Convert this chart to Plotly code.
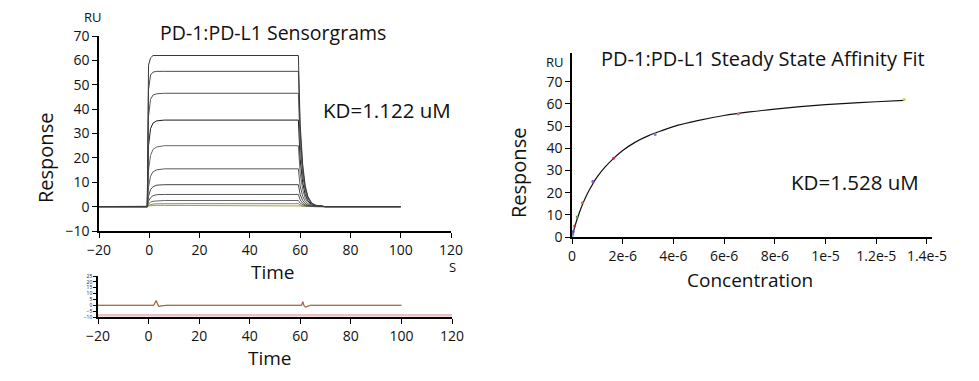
import plotly.graph_objects as go

W, H = 979, 381
OFF = 8  # page body margin offset

# ---- Sensorgram data ----
sens_time = [-20, -0.8, -0.3, 0.5, 1.5, 3, 6, 15, 59.3, 60, 61, 62, 63, 64.5, 66, 70, 100]
sens_curves = [
    [0, 0, 58, 61, 62, 62, 62, 62, 62, 34, 17.4, 8.7, 4.3, 1.6, 0.6, 0, 0],
    [0, 0, 48, 54, 55.2, 55.5, 55.5, 55.5, 55.5, 30.5, 15.5, 7.8, 3.9, 1.4, 0.6, 0, 0],
    [0, 0, 37, 44, 45.8, 46.3, 46.5, 46.5, 46.5, 25.6, 13, 6.5, 3.3, 1.2, 0.5, 0, 0],
    [0, 0, 25, 32, 34.3, 35.2, 35.5, 35.5, 35.5, 19.5, 9.9, 5, 2.5, 0.9, 0.4, 0, 0],
    [0, 0, 15, 21, 23.5, 24.5, 25, 25, 25, 13.8, 7, 3.5, 1.8, 0.6, 0.3, 0, 0],
    [0, 0, 8, 12.5, 14.3, 15.1, 15.5, 15.5, 15.5, 8.5, 4.3, 2.2, 1.1, 0.4, 0.2, 0, 0],
    [0, 0, 4.2, 7, 8.2, 8.8, 9, 9, 9, 5, 2.5, 1.3, 0.6, 0.2, 0.1, 0, 0],
    [0, 0, 2.2, 3.7, 4.5, 4.9, 5, 5, 5, 2.8, 1.4, 0.7, 0.35, 0.13, 0.05, 0, 0],
    [0, 0, 1, 1.8, 2.2, 2.4, 2.5, 2.5, 2.5, 1.4, 0.7, 0.35, 0.18, 0.06, 0.03, 0, 0],
    [0, 0, 0.5, 0.85, 1.05, 1.15, 1.2, 1.2, 1.2, 0.66, 0.34, 0.17, 0.08, 0.03, 0.01, 0, 0],
    [0, 0, 0.2, 0.35, 0.45, 0.5, 0.5, 0.5, 0.5, 0.28, 0.14, 0.07, 0.035, 0.01, 0, 0, 0],
]
sens_colors = ["#3a3a3a", "#4a4a4a", "#555555", "#1a1a1a", "#666666", "#5a5a5a",
               "#444444", "#555555", "#666666", "#8a8a50", "#a0a050"]

# ---- Residual data ----
res_time = [-20, 2, 3, 3.5, 4, 5, 7, 59, 60.5, 61, 61.5, 62, 64, 70, 100]
res_values = [0, 0, 4, 1, -1, -0.5, 0, 0, 0, 3, -0.5, -1.5, 0, 0, 0]
res_ref_time = [-20, 120]
res_ref_values = [-8.5, -8.5]

# ---- Steady state affinity data ----
conc = [1.31e-5, 6.56e-6, 3.28e-6, 1.64e-6, 8.2e-7, 4.1e-7, 2.05e-7, 1.03e-7, 5.1e-8, 2.6e-8, 1.3e-8]
resp = [62, 55.5, 46.2, 35.5, 25, 15.5, 9, 5, 2.5, 1.2, 0.5]
pt_colors = ["#c8d040", "#e07090", "#8080e0", "#d03050", "#9050c0", "#e07030",
             "#50a050", "#d03050", "#4060d0", "#c040c0", "#60c0c0"]
fit_conc = [0, 0.05e-6, 0.1e-6, 0.2e-6, 0.4e-6, 0.6e-6, 0.8e-6, 1.0e-6, 1.3e-6, 1.6e-6, 2e-6,
            2.5e-6, 3e-6, 3.5e-6, 4e-6, 5e-6, 6e-6, 7e-6, 8e-6, 9e-6, 1e-5, 1.1e-5, 1.2e-5, 1.31e-5]
fit_resp = [0, 2.2, 4.2, 8, 14.3, 19.4, 23.6, 27.2, 31.5, 35, 39, 42.8, 45.6, 47.8, 49.8, 52.6,
            54.8, 56.4, 57.7, 58.8, 59.7, 60.4, 61, 61.6]

FONT = "Open Sans"

fig = go.Figure()
for vals, col in reversed(list(zip(sens_curves, sens_colors))):
    fig.add_trace(go.Scatter(x=sens_time, y=vals, mode="lines", line=dict(color=col, width=1),
                             xaxis="x", yaxis="y", showlegend=False, hoverinfo="skip"))

fig.add_trace(go.Scatter(x=res_ref_time, y=res_ref_values, mode="lines",
                         line=dict(color="#e8c0c8", width=2.5), xaxis="x2", yaxis="y2", showlegend=False))
fig.add_trace(go.Scatter(x=res_time, y=res_values, mode="lines",
                         line=dict(color="#b8b060", width=1.2), xaxis="x2", yaxis="y2", showlegend=False))
fig.add_trace(go.Scatter(x=res_time, y=res_values, mode="lines",
                         line=dict(color="#9a4a4a", width=0.8), xaxis="x2", yaxis="y2", showlegend=False))

fig.add_trace(go.Scatter(x=fit_conc, y=fit_resp, mode="lines", line=dict(color="#111111", width=1.2, shape="spline"),
                         xaxis="x3", yaxis="y3", showlegend=False))
fig.add_trace(go.Scatter(x=conc, y=resp, mode="markers", marker=dict(color=pt_colors, size=3),
                         xaxis="x3", yaxis="y3", showlegend=False))

def px(x):
    return (x - OFF) / W

def py(y):
    return 1 - (y - OFF) / H

axis_common = dict(showline=True, linecolor="black", linewidth=1.5, ticks="outside", ticklen=5,
                   tickcolor="black", showgrid=False, zeroline=False, automargin=False,
                   tickfont=dict(family=FONT, size=14, color="#111"))

fig.update_layout(
    template="none",
    width=W, height=H, margin=dict(l=0, r=0, t=0, b=0, pad=0),
    paper_bgcolor="white", plot_bgcolor="white",
    font=dict(family=FONT, color="#111"),
    xaxis=dict(domain=[px(99), px(451)], range=[-20, 120], tickvals=[-20, 0, 20, 40, 60, 80, 100, 120],
               anchor="y", **axis_common),
    yaxis=dict(domain=[py(231), py(36)], range=[-10, 70], tickvals=[-10, 0, 10, 20, 30, 40, 50, 60, 70],
               anchor="x", **axis_common),
    xaxis2=dict(domain=[px(98), px(452)], range=[-20, 120], tickvals=[-20, 0, 20, 40, 60, 80, 100, 120],
                anchor="y2", **axis_common),
    yaxis2=dict(domain=[py(317), py(276)], range=[-10, 25], tickvals=[-10, -5, 0, 5, 10, 15, 20, 25],
                anchor="x2", showline=True, linecolor="black", linewidth=1.5, ticks="outside", ticklen=3,
                tickcolor="black", showgrid=False, zeroline=False, automargin=False,
                tickfont=dict(family=FONT, size=5, color="#111")),
    xaxis3=dict(domain=[px(572), px(932)], range=[0, 1.42e-5],
                tickvals=[0, 2e-6, 4e-6, 6e-6, 8e-6, 1e-5, 1.2e-5, 1.4e-5],
                ticktext=["0", "2e-6", "4e-6", "6e-6", "8e-6", "1e-5", "1.2e-5", "1.4e-5"],
                anchor="y3", **axis_common),
    yaxis3=dict(domain=[py(237), py(53)], range=[0, 83], tickvals=[0, 10, 20, 30, 40, 50, 60, 70],
                anchor="x3", **axis_common),
)

def ann(text, x, y, size, **kw):
    fig.add_annotation(text=text, x=px(x), y=py(y), xref="paper", yref="paper", showarrow=False,
                       font=dict(family=FONT, size=size, color="#111"), xanchor="center", yanchor="middle", **kw)

ann("RU", 93, 17, 13)
ann("PD-1:PD-L1 Sensorgrams", 273, 33, 19.5)
ann("KD=1.122 uM", 387, 110, 20.5)
ann("Response", 45, 158, 20, textangle=-90)
ann("Time", 273, 272, 19)
ann("S", 452, 267, 13)
ann("Time", 270, 358, 19)

ann("RU", 555, 62, 13)
ann("PD-1:PD-L1 Steady State Affinity Fit", 763, 58, 20)
ann("KD=1.528 uM", 855, 182, 20.5)
ann("Response", 518, 173, 20, textangle=-90)
ann("Concentration", 750, 280, 19)

fig.write_html("out.html")
